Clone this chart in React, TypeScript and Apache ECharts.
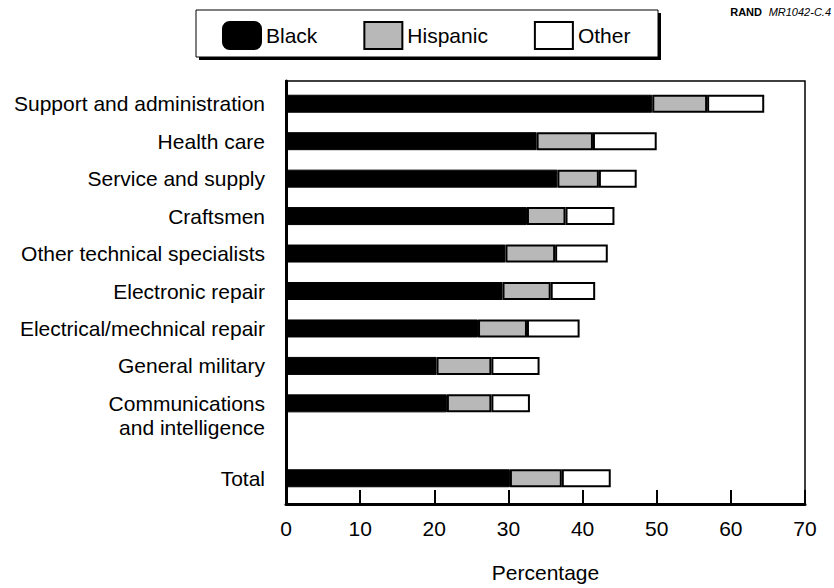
import React, { useEffect, useRef } from "react";
import * as echarts from "echarts";

const categories = [
  "Support and administration",
  "Health care",
  "Service and supply",
  "Craftsmen",
  "Other technical specialists",
  "Electronic repair",
  "Electrical/mechnical repair",
  "General military",
  "Communications\nand intelligence",
  "",
  "Total",
];
const blackValues = [49.4, 33.8, 36.6, 32.5, 29.6, 29.2, 25.9, 20.3, 21.7, null, 30.2];
const hispanicValues = [7.4, 7.6, 5.6, 5.2, 6.7, 6.5, 6.6, 7.4, 6.0, null, 7.0];
const otherValues = [7.7, 8.6, 5.1, 6.6, 7.1, 6.0, 7.1, 6.5, 5.2, null, 6.6];
const xTicks = [0, 10, 20, 30, 40, 50, 60, 70];
const seriesNames = ["Black", "Hispanic", "Other"];

const FONT = "'Liberation Sans', Arial, Helvetica, sans-serif";

export default function App() {
  const ref = useRef<HTMLDivElement>(null);
  useEffect(() => {
    if (!ref.current) return;
    const chart = echarts.init(ref.current, undefined, { renderer: "svg" });
    const plotLeft = 286;
    const plotRight = 29;
    chart.setOption({
      animation: false,
      backgroundColor: "#fff",
      textStyle: { fontFamily: FONT, color: "#000" },
      grid: [
        { left: plotLeft, right: plotRight, top: 85, height: 412 },
        {
          left: plotLeft,
          right: plotRight,
          top: 81,
          height: 432,
          show: true,
          borderColor: "#000",
          borderWidth: 1.5,
          backgroundColor: "transparent",
        },
      ],
      legend: {
        left: 222,
        top: 21,
        padding: 0,
        itemWidth: 38,
        itemHeight: 27,
        itemGap: 46,
        textStyle: { fontSize: 21, color: "#000", fontFamily: FONT },
        data: [
          { name: seriesNames[0], icon: "roundRect" },
          { name: seriesNames[1], icon: "rect" },
          { name: seriesNames[2], icon: "rect" },
        ],
      },
      xAxis: [
        { gridIndex: 0, type: "value", min: 0, max: 70, show: false },
        {
          gridIndex: 1,
          type: "value",
          min: xTicks[0],
          max: xTicks[xTicks.length - 1],
          interval: 10,
          axisLine: { show: true, lineStyle: { color: "#000", width: 3 } },
          axisTick: { show: true, inside: true, length: 14, lineStyle: { color: "#000", width: 2 } },
          splitLine: { show: false },
          axisLabel: { fontSize: 21, color: "#000", margin: 14, fontFamily: FONT },
          name: "Percentage",
          nameLocation: "middle",
          nameGap: 58,
          nameTextStyle: { fontSize: 21, color: "#000", fontFamily: FONT },
        },
      ],
      yAxis: [
        {
          gridIndex: 0,
          type: "category",
          inverse: true,
          data: categories,
          axisLine: { show: false },
          axisTick: { show: false },
          axisLabel: {
            fontSize: 21,
            color: "#000",
            margin: 21,
            lineHeight: 24,
            fontFamily: FONT,
            interval: 0,
            formatter: (v: string) => (v.indexOf("\n") >= 0 ? " \n" + v : v),
          },
        },
        {
          gridIndex: 1,
          type: "value",
          min: 0,
          max: 1,
          axisLine: { show: true, lineStyle: { color: "#000", width: 3 } },
          axisTick: { show: false },
          axisLabel: { show: false },
          splitLine: { show: false },
        },
      ],
      series: [
        {
          name: seriesNames[0],
          type: "bar",
          stack: "t",
          xAxisIndex: 0,
          yAxisIndex: 0,
          barWidth: 18,
          data: blackValues,
          itemStyle: { color: "#000", borderColor: "#000", borderWidth: 1 },
        },
        {
          name: seriesNames[1],
          type: "bar",
          stack: "t",
          xAxisIndex: 0,
          yAxisIndex: 0,
          barWidth: 18,
          data: hispanicValues,
          itemStyle: { color: "#b8b8b8", borderColor: "#000", borderWidth: 2 },
        },
        {
          name: seriesNames[2],
          type: "bar",
          stack: "t",
          xAxisIndex: 0,
          yAxisIndex: 0,
          barWidth: 18,
          data: otherValues,
          itemStyle: { color: "#fff", borderColor: "#000", borderWidth: 2 },
        },
      ],
      graphic: [
        {
          type: "rect",
          z: -1,
          shape: { x: 199, y: 13, width: 462, height: 47 },
          style: { fill: "#000" },
        },
        {
          type: "rect",
          z: 0,
          shape: { x: 196, y: 10, width: 462, height: 47 },
          style: { fill: "#fff", stroke: "#000", lineWidth: 1 },
        },
        {
          type: "text",
          right: 3,
          top: 6,
          style: {
            text: "{b|RAND}  {i|MR1042-C.4}",
            rich: {
              b: { fontSize: 11, fontWeight: "bold", fontFamily: FONT, fill: "#000" },
              i: { fontSize: 11, fontStyle: "italic", fontFamily: FONT, fill: "#000" },
            },
          },
        },
      ],
    });
    return () => chart.dispose();
  }, []);
  return (
    <div
      ref={ref}
      style={{ position: "fixed", left: 0, top: 0, width: 834, height: 588, background: "#fff" }}
    />
  );
}
